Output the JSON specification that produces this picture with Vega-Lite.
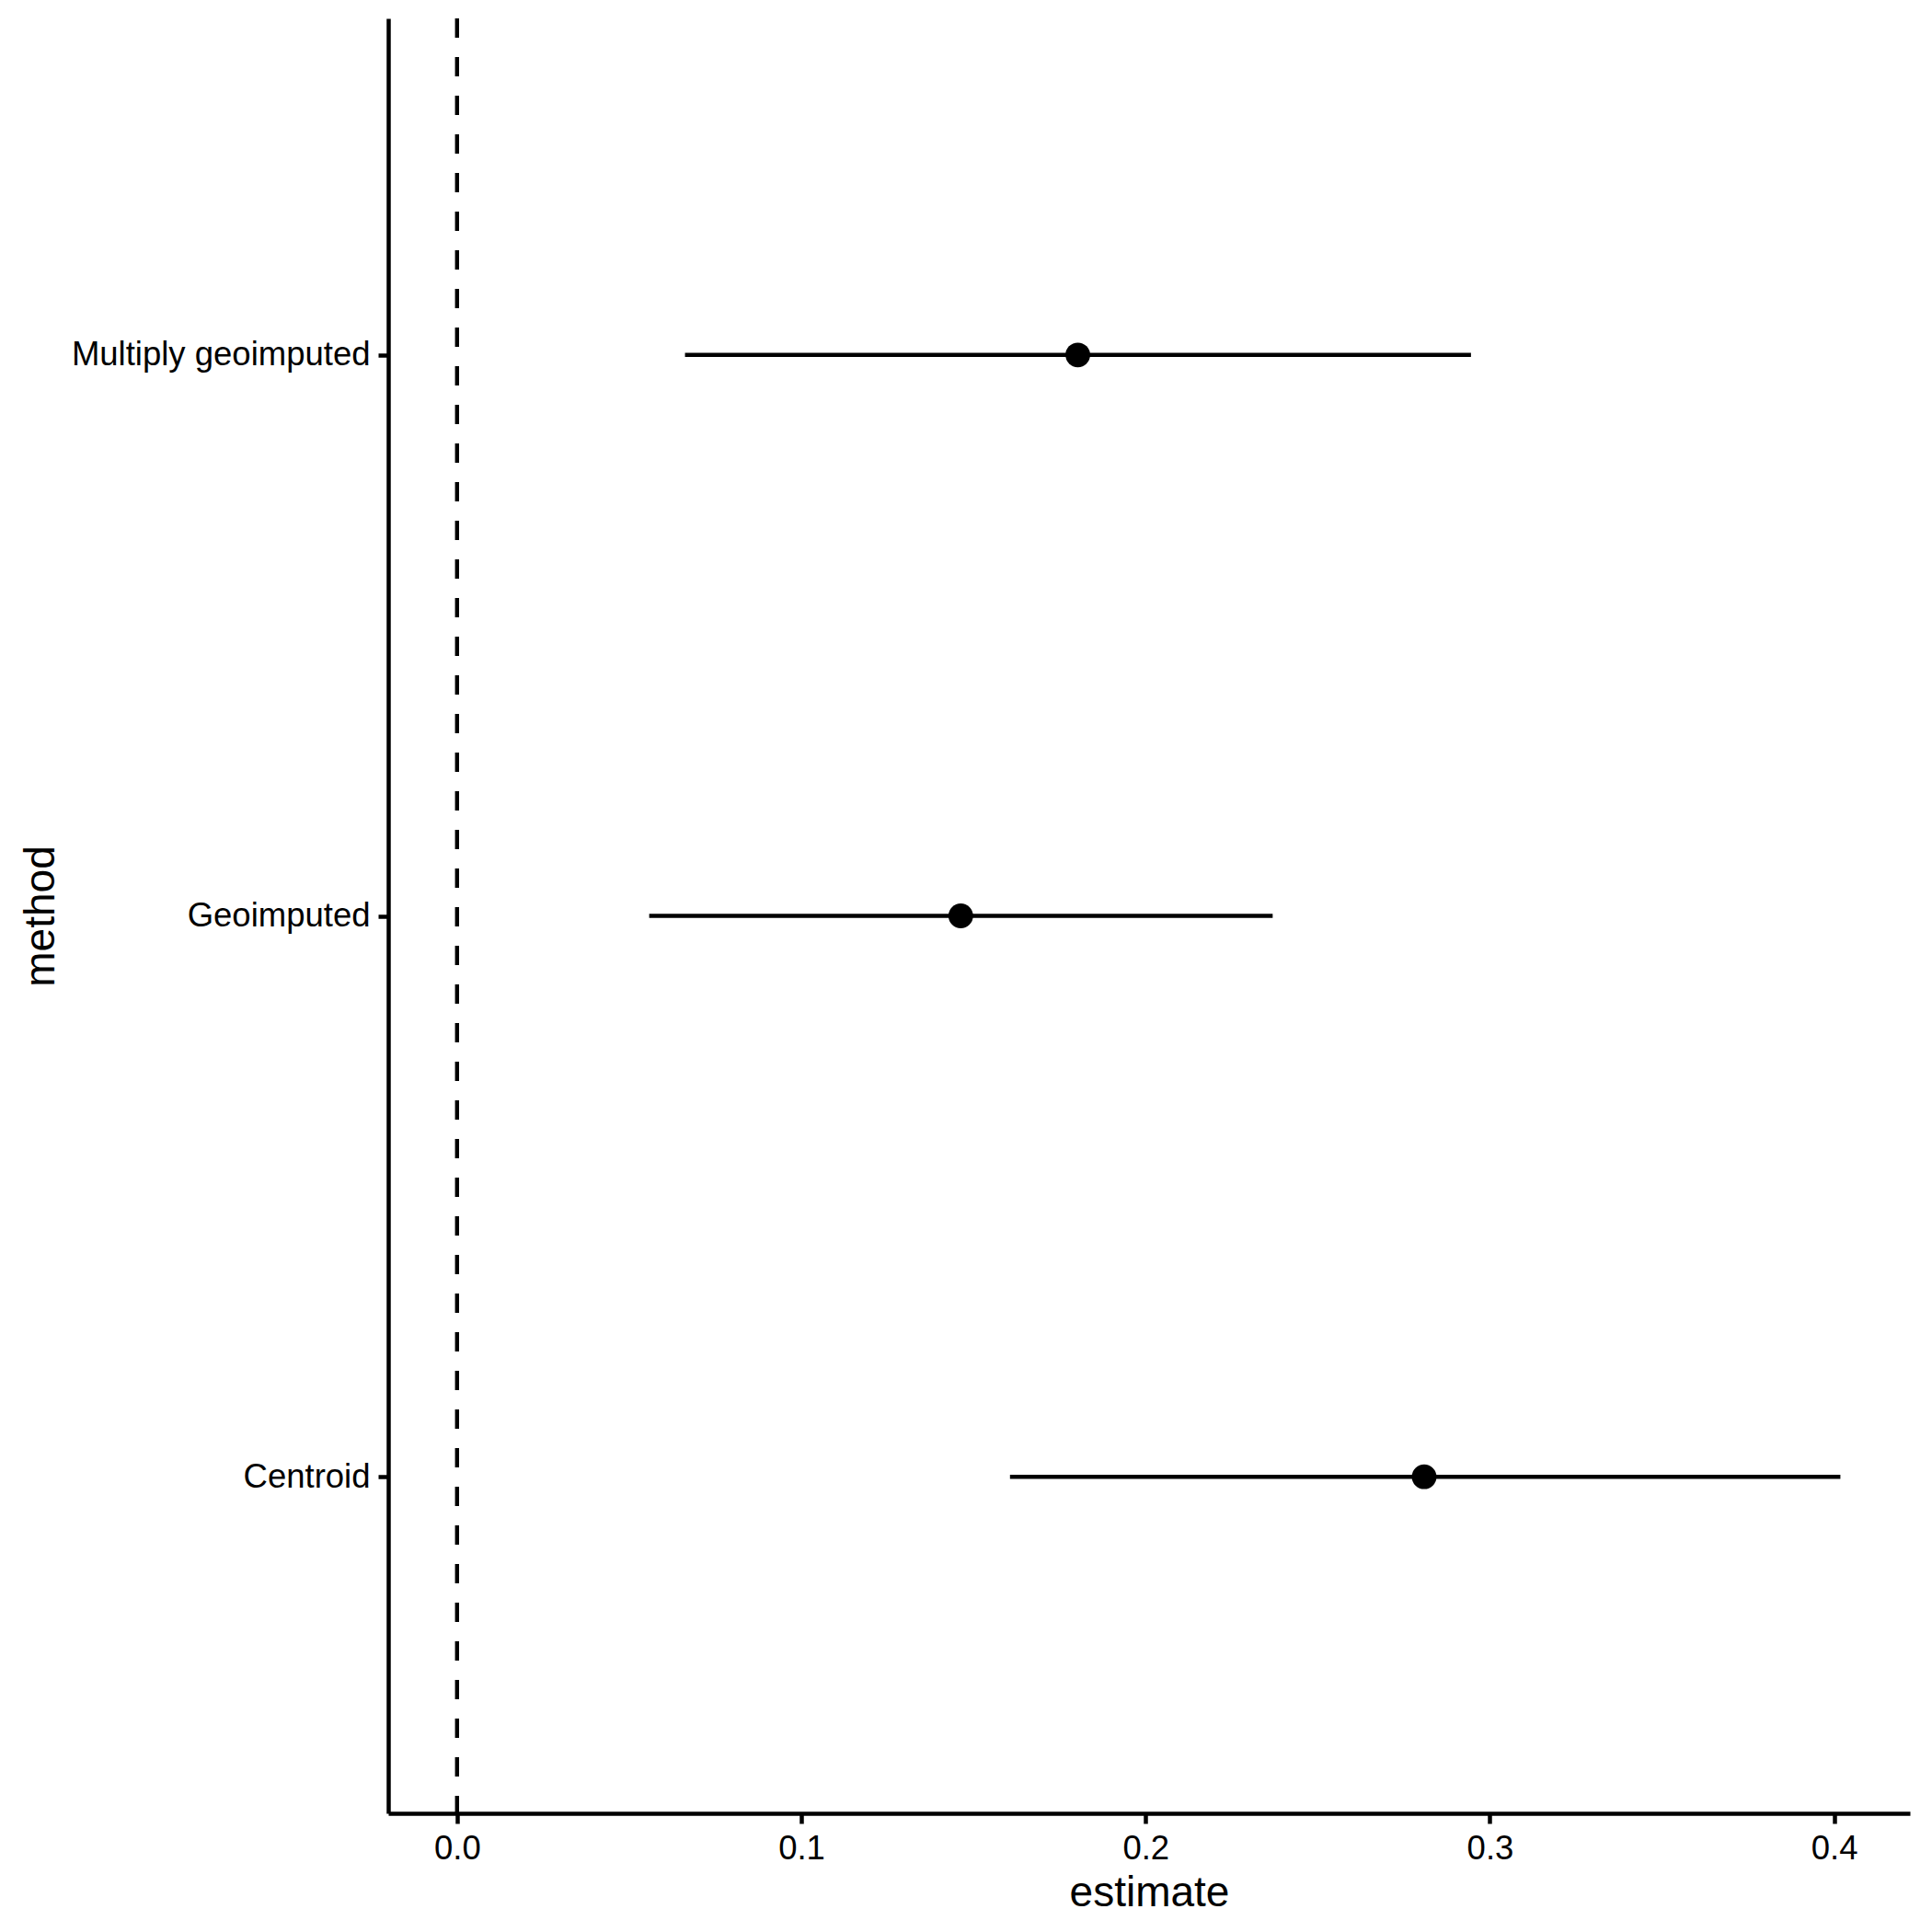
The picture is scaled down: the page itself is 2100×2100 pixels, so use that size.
{
  "$schema": "https://vega.github.io/schema/vega-lite/v6.json",
  "autosize": "none",
  "width": 1654,
  "height": 1951,
  "padding": {"left": 422, "top": 20, "right": 24, "bottom": 129},
  "background": "white",
  "config": {
    "view": {"stroke": null},
    "font": "Liberation Sans",
    "axis": {
      "grid": false,
      "domainColor": "black",
      "domainWidth": 4.5,
      "tickColor": "black",
      "tickWidth": 4.5,
      "tickSize": 11,
      "labelFont": "Liberation Sans",
      "labelFontSize": 36.5,
      "labelColor": "black",
      "labelPadding": 9,
      "labelLimit": 0,
      "titleFont": "Liberation Sans",
      "titleFontSize": 46,
      "titleFontWeight": "normal",
      "titleColor": "black"
    }
  },
  "data": {
    "values": [
      {"method": "Multiply geoimputed", "estimate": 0.1803, "low": 0.0662, "high": 0.2945},
      {"method": "Geoimputed", "estimate": 0.1463, "low": 0.0558, "high": 0.2369},
      {"method": "Centroid", "estimate": 0.2809, "low": 0.1606, "high": 0.4018}
    ]
  },
  "encoding": {
    "y": {
      "field": "method",
      "type": "nominal",
      "sort": ["Multiply geoimputed", "Geoimputed", "Centroid"],
      "scale": {"type": "point", "padding": 0.6},
      "axis": {"title": "method", "titleX": -378, "titleBaseline": "middle"}
    }
  },
  "layer": [
    {
      "mark": {"type": "rule", "color": "black", "strokeWidth": 4, "strokeDash": [21, 21]},
      "encoding": {
        "x": {"datum": 0, "type": "quantitative"},
        "y": null
      }
    },
    {
      "mark": {"type": "rule", "color": "black", "strokeWidth": 4.5},
      "encoding": {
        "x": {
          "field": "low",
          "type": "quantitative",
          "scale": {"domain": [-0.02, 0.422], "nice": false, "zero": false},
          "axis": {"title": "estimate", "values": [0, 0.1, 0.2, 0.3, 0.4], "format": ".1f", "titlePadding": 8}
        },
        "x2": {"field": "high"}
      }
    },
    {
      "mark": {"type": "point", "filled": true, "color": "black", "opacity": 1, "size": 720},
      "encoding": {
        "x": {"field": "estimate", "type": "quantitative"}
      }
    }
  ]
}
